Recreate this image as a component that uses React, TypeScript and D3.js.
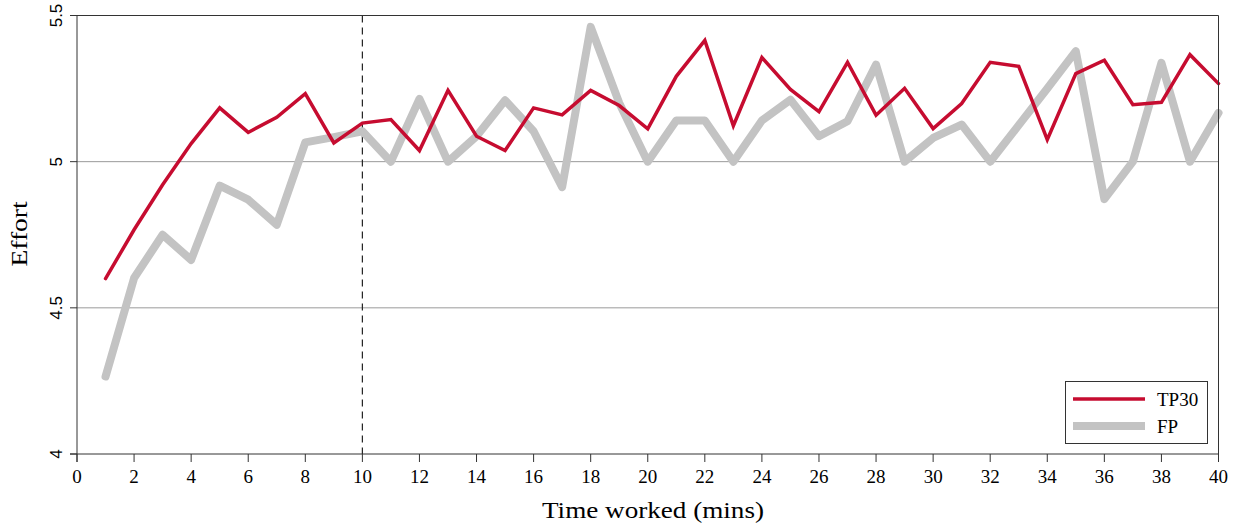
import React from "react";
import * as d3 from "d3";

const minutes = d3.range(1, 41);
const tp30 = [4.6, 4.767, 4.921, 5.062, 5.184, 5.1, 5.152, 5.233, 5.064, 5.132,
  5.144, 5.038, 5.244, 5.087, 5.038, 5.184, 5.16, 5.244, 5.192, 5.112,
  5.292, 5.415, 5.123, 5.356, 5.247, 5.171, 5.34, 5.159, 5.251, 5.113,
  5.199, 5.34, 5.326, 5.075, 5.301, 5.347, 5.195, 5.203, 5.366, 5.267];
const fp = [4.265, 4.602, 4.75, 4.664, 4.918, 4.87, 4.784, 5.066, 5.084, 5.104,
  5.0, 5.215, 5.0, 5.087, 5.21, 5.104, 4.913, 5.461, 5.201, 5.0,
  5.141, 5.141, 5.0, 5.141, 5.212, 5.087, 5.138, 5.332, 5.0, 5.081,
  5.127, 5.0, 5.125, 5.25, 5.378, 4.872, 5.0, 5.338, 5.0, 5.167];
const xTicks = d3.range(0, 41, 2);
const yTicks = [4, 4.5, 5, 5.5];
const gridValues = [4.5, 5];
const seriesNames = ["TP30", "FP"];

const W = 1240, H = 527;
const left = 77, right = 1218.5, top = 15.5, bottom = 454;
const RED = "#C60C30";
const GRAY = "#C3C3C3";
const SERIF = "Liberation Serif, Times New Roman, serif";
const SANS = "Liberation Sans, Arial, sans-serif";

export default function App() {
  const x = d3.scaleLinear().domain([0, 40]).range([left, right]);
  const y = d3.scaleLinear().domain([4, 5.5]).range([bottom, top]);
  const line = d3.line<number>().x((_, i) => x(minutes[i])).y(d => y(d));

  return (
    <svg width={W} height={H} style={{ position: "absolute", left: 0, top: 0 }} fontFamily={SERIF}>
      <rect width={W} height={H} fill="#fff" />
      {gridValues.map(v => (
        <line key={v} x1={left} x2={right} y1={y(v)} y2={y(v)} stroke="#9a9a9a" strokeWidth={1} />
      ))}
      <line x1={x(10)} x2={x(10)} y1={top} y2={bottom} stroke="#222" strokeWidth={1.2} strokeDasharray="7,5" />
      <path d={line(fp) || ""} fill="none" stroke={GRAY} strokeWidth={8} strokeLinejoin="round" strokeLinecap="round" />
      <path d={line(tp30) || ""} fill="none" stroke={RED} strokeWidth={3.5} strokeLinejoin="miter" strokeLinecap="round" />
      {/* frame */}
      <line x1={left - 7} x2={right} y1={top} y2={top} stroke="#333" strokeWidth={1} />
      <line x1={right} x2={right} y1={top} y2={bottom + 8} stroke="#333" strokeWidth={1} />
      <line x1={left} x2={left} y1={top} y2={bottom + 8} stroke="#333" strokeWidth={1} />
      <line x1={left - 7} x2={right} y1={bottom} y2={bottom} stroke="#333" strokeWidth={1} />
      {xTicks.map(t => (
        <g key={t}>
          <line x1={x(t)} x2={x(t)} y1={bottom} y2={bottom + 8} stroke="#333" strokeWidth={1} />
          <text x={x(t)} y={483} textAnchor="middle" fontSize={19} fill="#000">{t}</text>
        </g>
      ))}
      {yTicks.map(t => (
        <g key={t}>
          <line x1={left - 7} x2={left} y1={y(t)} y2={y(t)} stroke="#333" strokeWidth={1} />
          <text transform={`translate(62,${y(t)}) rotate(-90)`} textAnchor="middle" fontSize={17} fontFamily={SANS} fill="#000">{t}</text>
        </g>
      ))}
      <text x={653} y={518} textAnchor="middle" fontSize={23.5} textLength={222} lengthAdjust="spacingAndGlyphs" fill="#000">Time worked (mins)</text>
      <text transform={`translate(27,234) rotate(-90)`} textAnchor="middle" fontSize={23.5} textLength={65} lengthAdjust="spacingAndGlyphs" fill="#000">Effort</text>
      {/* legend */}
      <rect x={1065.5} y={381.5} width={142} height={62} fill="#fff" stroke="#333" strokeWidth={1} />
      {seriesNames.map((n, i) => (
        <g key={n}>
          <line x1={1073} x2={1145} y1={399 + i * 27} y2={399 + i * 27} stroke={i === 0 ? RED : GRAY} strokeWidth={i === 0 ? 3.5 : 8} />
          <text x={1157} y={406 + i * 27} fontSize={19} fill="#000">{n}</text>
        </g>
      ))}
    </svg>
  );
}
